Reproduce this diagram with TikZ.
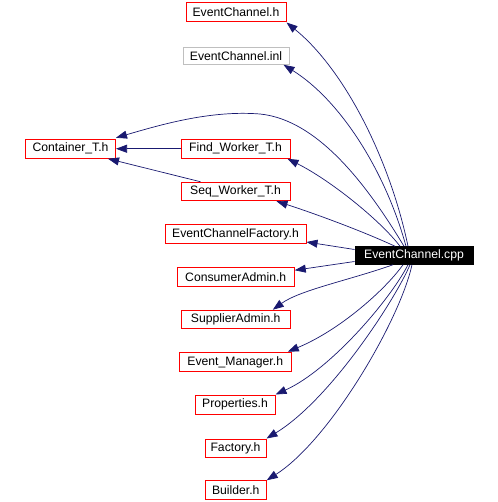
\documentclass[tikz,border=0pt]{standalone}
\usepackage{fontspec}
\setmainfont{Liberation Sans}
\usetikzlibrary{arrows.meta}
\definecolor{edgeblue}{HTML}{191970}
\definecolor{boxgray}{HTML}{BFBFBF}
\definecolor{boxred}{HTML}{FF0000}
\tikzset{
  filebox/.style={draw=boxred, line width=1pt, inner sep=0pt, font=\fontsize{12.2}{14}\selectfont, text=black},
  graybox/.style={filebox, draw=boxgray},
  mainbox/.style={filebox, draw=black, fill=black, text=white},
  dep/.style={draw=edgeblue, line width=0.7pt, -{Triangle[length=11pt,width=8pt]}, color=edgeblue},
}
\begin{document}
\begin{tikzpicture}[x=1pt,y=-1pt]
\useasboundingbox (0,0) rectangle (497,502);
\node[filebox, minimum width=100pt, minimum height=19pt] (ech) at (236,12.5) {EventChannel.h};
\node[graybox, minimum width=106pt, minimum height=16.5pt] (inl) at (236,56) {EventChannel.inl};
\node[filebox, minimum width=90pt, minimum height=19pt] (cont) at (70.5,148.75) {Container\_T.h};
\node[filebox, minimum width=109pt, minimum height=19pt] (find) at (235.5,148.75) {Find\_Worker\_T.h};
\node[filebox, minimum width=109pt, minimum height=18.5pt] (seq) at (235.5,191.5) {Seq\_Worker\_T.h};
\node[filebox, minimum width=141pt, minimum height=18.5pt] (fact) at (235.5,234) {EventChannelFactory.h};
\node[mainbox, minimum width=118pt, minimum height=17.5pt] (cpp) at (414,255.5) {EventChannel.cpp};
\node[filebox, minimum width=117pt, minimum height=19pt] (cons) at (235.75,276.75) {ConsumerAdmin.h};
\node[filebox, minimum width=109pt, minimum height=18pt] (supp) at (235.75,319.25) {SupplierAdmin.h};
\node[filebox, minimum width=112pt, minimum height=19.5pt] (evm) at (235.25,362) {Event\_Manager.h};
\node[filebox, minimum width=80pt, minimum height=19pt] (prop) at (235,404.5) {Properties.h};
\node[filebox, minimum width=61pt, minimum height=18pt] (factory) at (235.5,448) {Factory.h};
\node[filebox, minimum width=61pt, minimum height=18.5pt] (build) at (235.75,490) {Builder.h};

\draw[dep] ([xshift=-6pt]cpp.north) .. controls (390,160) and (345,70) .. (ech.south east);
\draw[dep] ([xshift=-8pt]cpp.north) .. controls (385,170) and (340,100) .. ([xshift=-6pt]inl.south east);
\draw[dep] ([xshift=-10pt]cpp.north) .. controls (370,190) and (320,120) .. (260,114) .. controls (210,110) and (160,125) .. ([yshift=11pt]cont.east);
\draw[dep] ([xshift=-14pt]cpp.north) .. controls (380,220) and (330,180) .. ([xshift=-3pt]find.south east);
\draw[dep] ([xshift=-19pt]cpp.north) .. controls (360,230) and (310,212) .. ([xshift=-14pt]seq.south east);
\draw[dep] ([yshift=6pt]cpp.west) -- ([yshift=-8pt]fact.east);
\draw[dep] ([yshift=-6pt]cpp.west) -- ([yshift=6.5pt]cons.east);
\draw[dep] ([xshift=-21pt]cpp.south) .. controls (350,280) and (300,290) .. ([xshift=-18pt]supp.north east);
\draw[dep] ([xshift=-11pt]cpp.south) .. controls (385,290) and (340,330) .. ([xshift=-4pt]evm.north east);
\draw[dep] ([xshift=-6pt]cpp.south) .. controls (390,300) and (330,370) .. (prop.north east);
\draw[dep] ([xshift=-4pt]cpp.south) .. controls (395,300) and (330,400) .. (factory.north east);
\draw[dep] ([xshift=-2pt]cpp.south) .. controls (400,320) and (330,440) .. (build.north east);
\draw[dep] (find.west) -- (cont.east);
\draw[dep] ([xshift=-35pt]seq.north) -- ([xshift=-8pt]cont.south east);
\end{tikzpicture}
\end{document}
